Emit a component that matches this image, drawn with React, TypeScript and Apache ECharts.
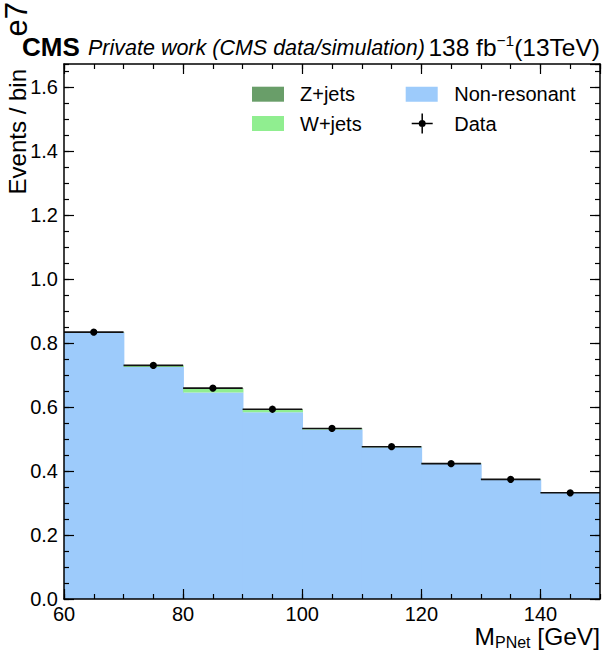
import React, { useEffect, useRef } from "react";
import * as echarts from "echarts";

// Bin edges of M_PNet [GeV]
const binEdges = [60, 70, 80, 90, 100, 110, 120, 130, 140, 150];
// Stacked MC (in units of 1e7 events / bin)
const nonResonant = [0.832, 0.725, 0.645, 0.584, 0.530, 0.474, 0.422, 0.373, 0.331];
const wJets = [0.001, 0.004, 0.012, 0.007, 0.002, 0.001, 0.001, 0.001, 0.001];
const zJets = [0.001, 0.001, 0.002, 0.002, 0.001, 0.001, 0.0005, 0.0005, 0.0005];
// Data (in units of 1e7 events / bin)
const dataValues = [0.834, 0.730, 0.659, 0.593, 0.533, 0.476, 0.423, 0.374, 0.332];

const xMin = 60;
const xMax = 150;
const yMin = 0;
const yMax = 1.672;

const FONT = '"Liberation Sans", Arial, Helvetica, sans-serif';
const colors = {
  z: "#699e69",
  w: "#90ee90",
  nonres: "#9dcbfb",
  data: "#000000",
};

function histData(values: number[], base: number[]) {
  return values.map((v, i) => [binEdges[i], binEdges[i + 1], base[i], base[i] + v]);
}

function histRender(color: string) {
  return (params: any, api: any) => {
    const lo = api.value(0);
    const hi = api.value(1);
    const b = api.value(2);
    const t = api.value(3);
    const p0 = api.coord([lo, t]);
    const p1 = api.coord([hi, b]);
    const last = hi >= xMax;
    return {
      type: "rect",
      shape: { x: p0[0], y: p0[1], width: p1[0] - p0[0] + (last ? 0 : 0.8), height: p1[1] - p0[1] },
      style: { fill: color },
    };
  };
}

export default function App() {
  const ref = useRef<HTMLDivElement>(null);

  useEffect(() => {
    if (!ref.current) return;
    const chart = echarts.init(ref.current, undefined, { renderer: "svg" });

    const base0 = nonResonant.map(() => 0);
    const base1 = nonResonant.slice();
    const base2 = nonResonant.map((v, i) => v + wJets[i]);

    const dataItems = dataValues.map((v, i) => [binEdges[i], binEdges[i + 1], v]);

    const frameLine = { show: true, onZero: false, lineStyle: { color: "#000", width: 1.5 } };
    const noLine = { show: false, onZero: false };
    const majorTick = { show: true, inside: true, length: 10, lineStyle: { color: "#000", width: 1.2 } };
    const minorTick = { show: true, inside: true, length: 5, lineStyle: { color: "#000", width: 1.2 } };
    const hiddenLabel = { show: false };

    const xBase = { type: "value", min: xMin, max: xMax, splitLine: { show: false }, z: 10 };
    const yBase = { type: "value", min: yMin, max: yMax, splitLine: { show: false }, z: 10 };

    const option: any = {
      animation: false,
      grid: { left: 64, right: 3, top: 64, bottom: 56, show: false },
      xAxis: [
        {
          ...xBase,
          position: "bottom",
          interval: 20,
          axisLine: frameLine,
          axisTick: majorTick,
          axisLabel: {
            showMaxLabel: false,
            fontSize: 20,
            color: "#000",
            fontFamily: FONT,
            margin: 5,
          },
        },
        { ...xBase, position: "bottom", interval: 5, axisLine: noLine, axisTick: minorTick, axisLabel: hiddenLabel },
        { ...xBase, position: "top", interval: 20, axisLine: frameLine, axisTick: majorTick, axisLabel: hiddenLabel },
        { ...xBase, position: "top", interval: 5, axisLine: noLine, axisTick: minorTick, axisLabel: hiddenLabel },
      ],
      yAxis: [
        {
          ...yBase,
          position: "left",
          interval: 0.2,
          axisLine: frameLine,
          axisTick: majorTick,
          axisLabel: {
            showMaxLabel: false,
            fontSize: 20,
            color: "#000",
            fontFamily: FONT,
            margin: 6,
            formatter: (v: number) => v.toFixed(1),
          },
        },
        { ...yBase, position: "left", interval: 0.05, axisLine: noLine, axisTick: minorTick, axisLabel: hiddenLabel },
        { ...yBase, position: "right", interval: 0.2, axisLine: frameLine, axisTick: majorTick, axisLabel: hiddenLabel },
        { ...yBase, position: "right", interval: 0.05, axisLine: noLine, axisTick: minorTick, axisLabel: hiddenLabel },
      ],
      legend: [
        {
          data: [
            { name: "Z+jets", icon: "rect" },
            { name: "W+jets", icon: "rect" },
          ],
          orient: "vertical",
          left: 252,
          top: 84.2,
          padding: 0,
          itemWidth: 32,
          itemHeight: 15,
          itemGap: 9.3,
          selectedMode: false,
          textStyle: { fontSize: 20, color: "#000", fontFamily: FONT, lineHeight: 20, padding: [0, 0, 0, 11] },
        },
        {
          data: [{ name: "Non-resonant", icon: "rect" }],
          orient: "vertical",
          left: 405.7,
          top: 84.2,
          padding: 0,
          itemWidth: 32,
          itemHeight: 15,
          selectedMode: false,
          textStyle: { fontSize: 20, color: "#000", fontFamily: FONT, lineHeight: 20, padding: [0, 0, 0, 11.6] },
        },
        {
          data: [
            {
              name: "Data",
              icon:
                "path://M0,9.25 L21,9.25 L21,10.75 L0,10.75 Z M9.75,0 L11.25,0 L11.25,20 L9.75,20 Z M14,10 A3.5,3.5 0 1 1 7,10 A3.5,3.5 0 1 1 14,10 Z",
            },
          ],
          orient: "vertical",
          left: 411.7,
          top: 113.5,
          padding: 0,
          itemWidth: 21,
          itemHeight: 20,
          selectedMode: false,
          textStyle: { fontSize: 20, color: "#000", fontFamily: FONT, lineHeight: 20, padding: [0, 0, 0, 16.6] },
        },
      ],
      series: [
        {
          name: "Non-resonant",
          type: "custom",
          renderItem: histRender(colors.nonres),
          itemStyle: { color: colors.nonres },
          encode: { x: [0, 1], y: [2, 3] },
          data: histData(nonResonant, base0),
          z: 2,
        },
        {
          name: "W+jets",
          type: "custom",
          renderItem: histRender(colors.w),
          itemStyle: { color: colors.w },
          encode: { x: [0, 1], y: [2, 3] },
          data: histData(wJets, base1),
          z: 2,
        },
        {
          name: "Z+jets",
          type: "custom",
          renderItem: histRender(colors.z),
          itemStyle: { color: colors.z },
          encode: { x: [0, 1], y: [2, 3] },
          data: histData(zJets, base2),
          z: 2,
        },
        {
          name: "Data",
          type: "custom",
          itemStyle: { color: colors.data },
          encode: { x: [0, 1], y: 2 },
          data: dataItems,
          z: 5,
          renderItem: (params: any, api: any) => {
            const lo = api.value(0);
            const hi = api.value(1);
            const v = api.value(2);
            const a = api.coord([lo, v]);
            const b = api.coord([hi, v]);
            const c = api.coord([(lo + hi) / 2, v]);
            return {
              type: "group",
              children: [
                {
                  type: "line",
                  shape: { x1: a[0], y1: a[1], x2: b[0], y2: b[1] },
                  style: { stroke: "#111", lineWidth: 1.6 },
                },
                {
                  type: "circle",
                  shape: { cx: c[0], cy: c[1], r: 3.6 },
                  style: { fill: "#000" },
                },
              ],
            };
          },
        },
      ],
      graphic: [
        {
          type: "text",
          x: 22,
          y: 47,
          style: { text: "CMS", font: `bold 26px ${FONT}`, fill: "#000", align: "left", verticalAlign: "middle" },
        },
        {
          type: "text",
          x: 88,
          y: 47.5,
          style: {
            text: "Private work (CMS data/simulation)",
            font: `italic 21.5px ${FONT}`,
            fill: "#000",
            align: "left",
            verticalAlign: "middle",
          },
        },
        {
          type: "text",
          x: 600,
          y: 46,
          style: {
            text: "{n|138 fb}{s|−1}{n|(13TeV)}",
            align: "right",
            verticalAlign: "middle",
            rich: {
              n: { fontSize: 24.5, fontFamily: FONT, fill: "#000", color: "#000", lineHeight: 27, verticalAlign: "bottom" },
              s: { fontSize: 15.5, fontFamily: FONT, fill: "#000", color: "#000", lineHeight: 15, verticalAlign: "top" },
            },
          },
        },
        {
          type: "text",
          x: 600,
          y: 637,
          style: {
            text: "{n|M}{s|PNet}{n| [GeV]}",
            align: "right",
            verticalAlign: "middle",
            rich: {
              n: { fontSize: 24.5, fontFamily: FONT, fill: "#000", color: "#000", lineHeight: 27, verticalAlign: "top" },
              s: { fontSize: 16, fontFamily: FONT, fill: "#000", color: "#000", lineHeight: 16, verticalAlign: "bottom" },
            },
          },
        },
        {
          type: "text",
          x: 17,
          y: 69,
          rotation: Math.PI / 2,
          style: { text: "Events / bin", font: `24px ${FONT}`, fill: "#000", align: "right", verticalAlign: "middle" },
        },
        {
          type: "text",
          x: 16,
          y: 2,
          rotation: Math.PI / 2,
          style: { text: "e7", font: `31px ${FONT}`, fill: "#000", align: "right", verticalAlign: "middle" },
        },
      ],
    };

    chart.setOption(option);
    return () => {
      chart.dispose();
    };
  }, []);

  return (
    <div
      ref={ref}
      style={{ position: "absolute", left: 0, top: 0, width: 603, height: 655, background: "#fff" }}
    />
  );
}
